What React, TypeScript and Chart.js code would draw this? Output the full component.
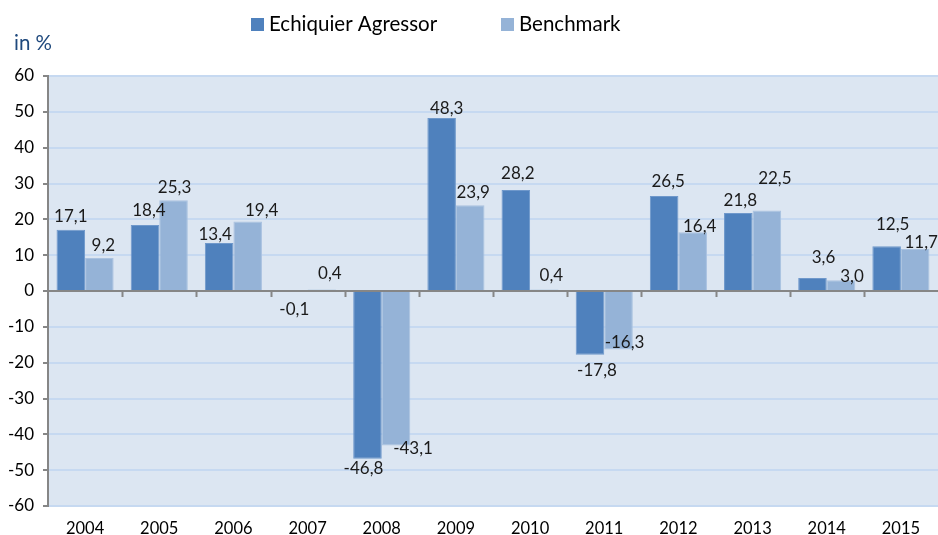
import React, { useEffect, useRef } from "react";
import { Chart, registerables } from "chart.js";

Chart.register(...registerables);

const years = ["2004", "2005", "2006", "2007", "2008", "2009", "2010", "2011", "2012", "2013", "2014", "2015"];
const agressor = [17.1, 18.4, 13.4, -0.1, -46.8, 48.3, 28.2, -17.8, 26.5, 21.8, 3.6, 12.5];
const benchmark = [9.2, 25.3, 19.4, 0.4, -43.1, 23.9, 0.4, -16.3, 16.4, 22.5, 3.0, 11.7];
const seriesNames = ["Echiquier Agressor", "Benchmark"];
const yTicks = { min: -60, max: 60, step: 10 };
const unitLabel = "in %";

// small hand-placed nudges of the value labels (px), as in the original
const labelNudgeA: [number, number][] = [
  [0, -3], [4, -5], [-4, 2], [1, 8], [-4, 0], [5, 1], [2, -6], [7, 6], [4, -5], [2, -2], [11, -11], [6, -12],
];
const labelNudgeB: [number, number][] = [
  [4, -3], [1, -3], [14, -1], [8, -6], [17, -7], [3, -3], [7, -4], [6, -17], [7, 4], [8, -22], [11, 6], [6, 3],
];

const BLUE = "#4F81BD";
const LIGHT = "#95B3D7";
const FONT = "Lato, 'DejaVu Sans', sans-serif";

const fmt = (v: number) => v.toFixed(1).replace(".", ",");

export default function App() {
  const ref = useRef<HTMLCanvasElement | null>(null);

  useEffect(() => {
    document.body.style.margin = "0";
    const canvas = ref.current;
    if (!canvas) return;

    const bgPlugin = {
      id: "bgPlugin",
      beforeDraw(chart: any) {
        const { ctx, chartArea } = chart;
        ctx.save();
        ctx.fillStyle = "#DCE6F2";
        ctx.fillRect(chartArea.left, chartArea.top, chartArea.right - chartArea.left, chartArea.bottom - chartArea.top);
        ctx.restore();
      },
      afterDatasetsDraw(chart: any) {
        const { ctx, chartArea } = chart;
        const y = chart.scales.y;
        const y0 = y.getPixelForValue(0);
        ctx.save();
        // zero axis line
        ctx.strokeStyle = "#868686";
        ctx.lineWidth = 2;
        ctx.beginPath();
        ctx.moveTo(chartArea.left, y0);
        ctx.lineTo(chartArea.right, y0);
        ctx.stroke();
        // category tick marks
        const n = years.length;
        const cw = (chartArea.right - chartArea.left) / n;
        ctx.beginPath();
        for (let i = 1; i < n; i++) {
          const px = Math.round(chartArea.left + i * cw) + 0.5;
          ctx.moveTo(px, y0);
          ctx.lineTo(px, y0 + 6);
        }
        ctx.lineWidth = 2;
        ctx.stroke();

        // data labels
        ctx.font = "17px " + FONT;
        ctx.fillStyle = "#1A1A1A";
        ctx.textAlign = "center";
        ctx.textBaseline = "middle";
        const nudges = [labelNudgeA, labelNudgeB];
        chart.data.datasets.forEach((ds: any, di: number) => {
          const meta = chart.getDatasetMeta(di);
          meta.data.forEach((bar: any, i: number) => {
            const v = ds.data[i];
            const end = y.getPixelForValue(v);
            const [dx, dy] = nudges[di][i];
            const ty = (v >= 0 ? end - 10 : end + 10) + dy;
            ctx.fillText(fmt(v), bar.x + dx, ty);
          });
        });

        // unit label
        ctx.textBaseline = "alphabetic";
        ctx.fillStyle = "#1F497D";
        ctx.font = "20.5px " + FONT;
        ctx.textAlign = "left";
        ctx.fillText(unitLabel, 14, 50);

        // legend
        const legendX = [251, 501];
        const colors = [BLUE, LIGHT];
        seriesNames.forEach((name, i) => {
          ctx.fillStyle = colors[i];
          ctx.fillRect(legendX[i], 18, 13, 13);
          ctx.fillStyle = "#000";
          ctx.fillText(name, legendX[i] + 18, 31);
        });
        ctx.restore();
      },
    };

    const chart = new Chart(canvas, {
      type: "bar",
      data: {
        labels: years,
        datasets: [
          { label: seriesNames[0], data: agressor, backgroundColor: BLUE, borderColor: "#6F98CB", borderWidth: 1 },
          { label: seriesNames[1], data: benchmark, backgroundColor: LIGHT, borderColor: "#AAC2E0", borderWidth: 1 },
        ],
      },
      options: {
        responsive: false,
        animation: false,
        devicePixelRatio: 1,
        layout: { padding: { top: 76, left: 0, right: 0, bottom: 0 } },
        datasets: { bar: { categoryPercentage: 0.77, barPercentage: 1 } },
        plugins: { legend: { display: false }, tooltip: { enabled: false }, title: { display: false } },
        scales: {
          x: {
            grid: { display: false },
            border: { display: false },
            ticks: { font: { family: FONT, size: 16.5 }, color: "#000", padding: 5, maxRotation: 0 },
            afterFit: (s: any) => {
              s.height = 29;
            },
          },
          y: {
            min: yTicks.min,
            max: yTicks.max,
            ticks: { stepSize: yTicks.step, font: { family: FONT, size: 17 }, color: "#000", padding: 9 },
            grid: {
              color: (c: any) => (c.tick && c.tick.value === 0 ? "#868686" : "#C6D9F1"),
              lineWidth: 2,
              tickLength: 5,
              tickColor: "#868686",
            },
            border: { color: "#868686", width: 2 },
            afterFit: (s: any) => {
              s.width = 48;
            },
          },
        },
      },
      plugins: [bgPlugin],
    } as any);

    return () => chart.destroy();
  }, []);

  return (
    <div style={{ position: "absolute", left: 0, top: 0, width: 938, height: 535 }}>
      <canvas ref={ref} width={938} height={535} style={{ width: 938, height: 535 }} />
    </div>
  );
}
